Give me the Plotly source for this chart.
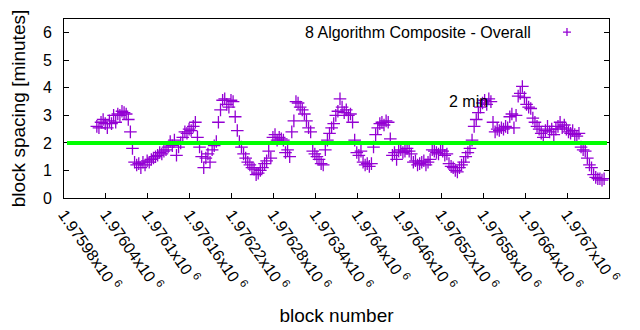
import plotly.graph_objects as go

# Block spacing (minutes) for consecutive sampled blocks, every 3rd block from 1976027
first_block = 1976027
block_step = 3
spacing = [
    2.6, 2.55, 2.75, 2.85, 2.7, 2.55, 2.8, 2.7, 3.0, 2.75,
    3.05, 3.0, 3.15, 3.1, 3.05, 2.85, 2.4, 1.8, 1.3, 1.2,
    1.25, 1.1, 1.3, 1.2, 1.35, 1.3, 1.4, 1.45, 1.5, 1.55,
    1.65, 1.6, 1.7, 1.75, 1.85, 2.05, 1.9, 2.1, 1.55, 1.85,
    2.0, 2.2, 2.4, 2.35, 2.5, 2.45, 2.6, 2.75, 2.2, 1.85,
    1.5, 1.1, 1.45, 1.6, 1.3, 1.75, 1.9, 2.05, 2.75, 3.2,
    3.55, 3.6, 3.4, 3.3, 3.55, 3.5, 2.95, 2.45, 2.05, 1.85,
    1.6, 1.45, 1.3, 1.2, 1.1, 1.05, 0.85, 0.9, 1.0, 1.1,
    1.25, 1.35, 1.7, 1.45, 2.2, 2.3, 2.1, 2.2, 2.15, 2.1,
    1.65, 1.75, 1.5, 2.4, 2.8, 3.5, 3.45, 3.3, 3.2, 3.05,
    2.8, 2.55, 2.4, 1.7, 1.6, 1.5, 1.4, 1.25, 1.2, 1.75,
    2.1, 2.35, 2.55, 2.7, 3.0, 3.15, 3.6, 3.3, 3.1, 3.2,
    3.0, 3.05, 2.75, 2.1, 1.65, 1.55, 1.7, 1.3, 1.2, 1.25,
    1.15, 1.25, 1.85, 2.3, 2.55, 2.7, 2.75, 2.65, 2.8, 2.75,
    2.15, 1.55, 1.65, 1.4, 1.7, 1.75, 1.65, 1.7, 1.8, 1.7,
    1.6, 1.3, 1.35, 1.2, 1.25, 1.3, 1.35, 1.2, 1.3, 1.4,
    1.75, 1.7, 1.65, 1.6, 1.75, 1.7, 1.55, 1.6, 1.25, 1.15,
    1.1, 1.0, 0.95, 1.1, 1.2, 1.3, 1.5, 1.65, 1.8, 2.1,
    2.6, 2.85, 3.1, 3.3, 3.45, 3.55, 3.4, 3.6, 3.5, 2.75,
    2.4, 2.5, 2.45, 2.55, 2.5, 2.6, 2.55, 2.95, 3.05, 2.55,
    3.0, 3.7, 3.8, 4.05, 3.65, 3.4, 3.3, 3.25, 2.9, 2.75,
    2.6, 2.5, 2.35, 2.2, 2.45, 2.6, 2.4, 2.5, 2.3, 2.5,
    2.6, 2.75, 2.55, 2.65, 2.5, 2.4, 2.35, 2.45, 2.3, 2.25,
    2.35, 1.85, 1.75, 1.7, 1.45, 1.2, 1.1, 0.85, 0.75, 0.7,
    0.7, 0.65, 0.7,
]
blocks = [first_block + block_step * i for i in range(len(spacing))]

target_minutes = 2
target_label = "2 min"
target_label_block = 1976528
target_label_y = 3.5

series_name = "8 Algorithm Composite - Overall"

x_min, x_max = 1975980, 1976760
tick_blocks = list(range(x_min, x_max + 1, 60))
tick_text = [
    ("%.5f" % (b / 1e6)).rstrip("0") + "x10 <sup>6</sup>" for b in tick_blocks
]

FONT = "Liberation Sans, Arial, sans-serif"
PURPLE = "#9400D3"
GREEN = "#00FF00"

fig = go.Figure()
fig.add_trace(
    go.Scatter(
        x=blocks,
        y=spacing,
        mode="markers",
        name=series_name,
        marker=dict(
            symbol="cross-thin",
            size=9,
            color=PURPLE,
            line=dict(color=PURPLE, width=1.3),
        ),
        showlegend=False,
    )
)

# target spacing line
fig.add_shape(
    type="line",
    xref="paper",
    yref="y",
    x0=0.0055,
    x1=0.9963,
    y0=target_minutes,
    y1=target_minutes,
    line=dict(color=GREEN, width=4),
)

# key: label text and sample point
fig.add_annotation(
    x=0.8606, y=0.927, xref="paper", yref="paper",
    text=series_name, showarrow=False, xanchor="right", yanchor="middle",
    font=dict(family=FONT, size=16, color="#000000"),
)
fig.add_shape(
    type="path",
    xref="paper", yref="paper",
    xsizemode="pixel", ysizemode="pixel",
    xanchor=0.9229, yanchor=0.927,
    path="M-4,0 L4,0 M0,-4 L0,4",
    line=dict(color=PURPLE, width=1.3),
)

fig.add_annotation(
    x=target_label_block, y=target_label_y, xref="x", yref="y",
    text=target_label, showarrow=False, xanchor="left", yanchor="middle",
    font=dict(family=FONT, size=16, color="#000000"),
)

fig.update_layout(
    width=640,
    height=330,
    margin=dict(l=64, r=31, t=19, b=132),
    paper_bgcolor="white",
    plot_bgcolor="white",
    font=dict(family=FONT, size=16, color="#000000"),
)
fig.update_xaxes(
    range=[x_min, x_max],
    tickmode="array",
    tickvals=tick_blocks,
    ticktext=tick_text,
    tickangle=55,
    tickfont=dict(size=16),
    ticks="inside",
    ticklen=5,
    tickcolor="black",
    showline=True,
    linecolor="black",
    linewidth=1,
    mirror=True,
    showgrid=False,
    zeroline=False,
    title=dict(text="block number", standoff=15),
    automargin=False,
)
fig.update_yaxes(
    range=[0, 6.5],
    tickvals=[0, 1, 2, 3, 4, 5, 6],
    ticks="inside",
    ticklen=5,
    tickcolor="black",
    showline=True,
    linecolor="black",
    linewidth=1,
    mirror="ticks",
    showgrid=False,
    zeroline=False,
    ticklabelstandoff=8,
    title=dict(text="block spacing [minutes]", standoff=12),
    automargin=False,
)

fig.write_html("out.html")
